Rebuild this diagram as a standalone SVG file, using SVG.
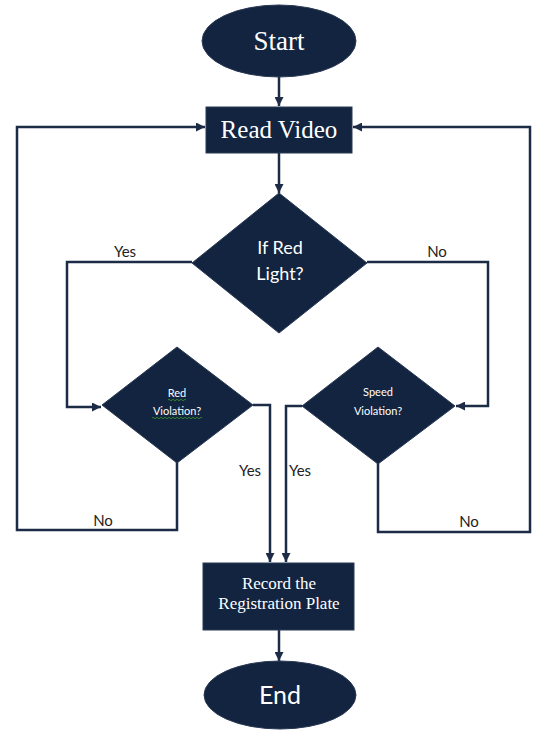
<svg xmlns="http://www.w3.org/2000/svg" width="542" height="732" viewBox="0 0 542 732">
  <style>
    .shape { fill: #12243f; stroke: #2a3a55; stroke-width: 1; }
    .serif { font-family: "Liberation Serif", "DejaVu Serif", serif; fill: #ffffff; text-anchor: middle; }
    .sans { font-family: Lato, "Liberation Sans", sans-serif; fill: #ffffff; text-anchor: middle; }
    .label { font-family: Lato, "Liberation Sans", sans-serif; fill: #222222; font-size: 15px; text-anchor: middle; }
    .wire { fill: none; stroke: #1c2c46; stroke-width: 2.5; stroke-linejoin: miter; }
    .squiggle { fill: none; stroke: #3a9a2a; stroke-width: 0.8; }
  </style>
  <defs>
    <marker id="arrow" markerUnits="userSpaceOnUse" markerWidth="9" markerHeight="9" refX="9" refY="4.5" orient="auto">
      <path d="M0,0 L9,4.5 L0,9 z" fill="#1c2c46"/>
    </marker>
  </defs>

  <rect width="542" height="732" fill="#ffffff"/>

  <!-- connectors -->
  <g id="connectors">
    <path class="wire" d="M279,77 V106" marker-end="url(#arrow)"/>
    <path class="wire" d="M279,153 V193" marker-end="url(#arrow)"/>
    <path class="wire" d="M192,262 H67 V407 H101" marker-end="url(#arrow)"/>
    <path class="wire" d="M367,262 H488 V406 H456" marker-end="url(#arrow)"/>
    <path class="wire" d="M253,405 H270 V562" marker-end="url(#arrow)"/>
    <path class="wire" d="M302,406 H286 V562" marker-end="url(#arrow)"/>
    <path class="wire" d="M177,462 V530 H17 V127 H205" marker-end="url(#arrow)"/>
    <path class="wire" d="M378,463 V532 H530 V127 H353" marker-end="url(#arrow)"/>
    <path class="wire" d="M279,630 V661" marker-end="url(#arrow)"/>
    <text class="label" x="125" y="257">Yes</text>
    <text class="label" x="437" y="257">No</text>
    <text class="label" x="250" y="476">Yes</text>
    <text class="label" x="300" y="476">Yes</text>
    <text class="label" x="103" y="526">No</text>
    <text class="label" x="469" y="527">No</text>
  </g>

  <!-- terminals, processes and decisions -->
  <g id="start">
    <ellipse class="shape" cx="279" cy="41" rx="77" ry="36"/>
    <text class="serif" x="279" y="50" font-size="27">Start</text>
  </g>

  <g id="read-video">
    <rect class="shape" x="206" y="107" width="146" height="46"/>
    <text class="serif" x="279" y="138" font-size="25">Read Video</text>
  </g>

  <g id="if-red-light">
    <polygon class="shape" points="279,193 367,263 279,333 192,263"/>
    <text class="sans" x="280" y="254" font-size="18">If Red</text>
    <text class="sans" x="280" y="280" font-size="18">Light?</text>
  </g>

  <g id="red-violation">
    <polygon class="shape" points="177,347 253,405 177,463 102,405"/>
    <text class="sans" x="177" y="397" font-size="11">Red</text>
    <path class="squiggle" d="M168,400 q1,-1.5 2,0 t2,0 t2,0 t2,0 t2,0 t2,0 t2,0 t2,0 t2,0"/>
    <text class="sans" x="177" y="415" font-size="11">Violation?</text>
    <path class="squiggle" d="M152,418 q1,-1.5 2,0 t2,0 t2,0 t2,0 t2,0 t2,0 t2,0 t2,0 t2,0 t2,0 t2,0 t2,0 t2,0 t2,0 t2,0 t2,0 t2,0 t2,0 t2,0 t2,0 t2,0 t2,0 t2,0 t2,0 t2,0"/>
  </g>

  <g id="speed-violation">
    <polygon class="shape" points="378,347 455,406 378,464 302,406"/>
    <text class="sans" x="378" y="396" font-size="11">Speed</text>
    <text class="sans" x="378" y="415" font-size="11">Violation?</text>
  </g>

  <g id="record-plate">
    <rect class="shape" x="203" y="563" width="151" height="67"/>
    <text class="serif" x="279" y="589" font-size="17">Record the</text>
    <text class="serif" x="279" y="609" font-size="17">Registration Plate</text>
  </g>

  <g id="end">
    <ellipse class="shape" cx="280" cy="695" rx="76" ry="34"/>
    <text class="sans" x="280" y="704" font-size="25">End</text>
  </g>
</svg>
